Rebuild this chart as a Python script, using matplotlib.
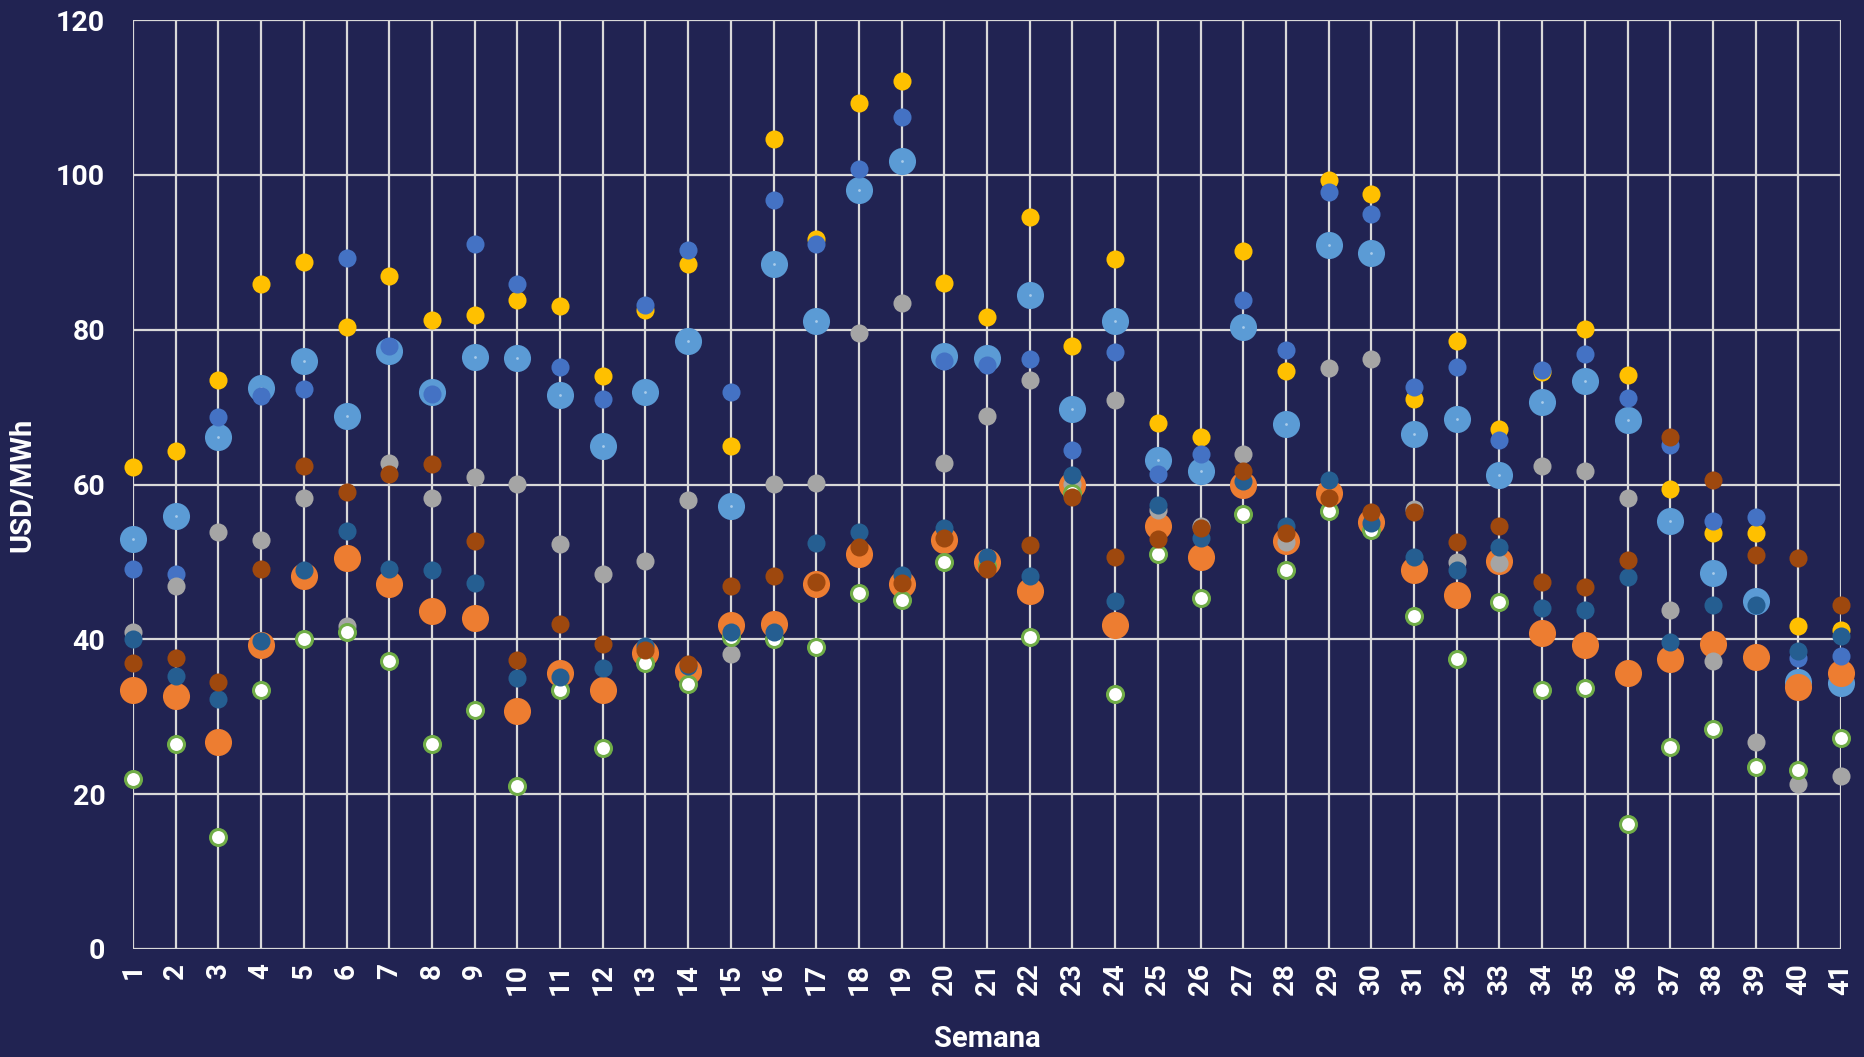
import matplotlib
matplotlib.use("Agg")
import matplotlib.pyplot as plt
import numpy as np

weeks = list(range(1, 42))

light_blue = [53.0, 55.9, 66.1, 72.5, 75.9, 68.9, 77.3, 72.0, 76.5, 76.3,
              71.6, 65.0, 71.9, 78.6, 57.2, 88.5, 81.1, 98.0, 101.8, 76.6,
              76.4, 84.5, 69.7, 81.1, 63.2, 61.8, 80.4, 67.8, 91.0, 89.9,
              66.5, 68.5, 61.2, 70.6, 73.4, 68.3, 55.3, 48.6, 45.0, 34.5, 34.3]
orange = [33.5, 32.7, 26.8, 39.3, 48.2, 50.5, 47.2, 43.7, 42.8, 30.7,
          35.7, 33.4, 38.3, 35.9, 41.8, 42.0, 47.2, 51.0, 47.1, 52.8,
          50.0, 46.2, 59.9, 41.9, 54.6, 50.7, 60.0, 52.7, 58.9, 55.1,
          49.0, 45.7, 50.1, 40.8, 39.3, 35.7, 37.4, 39.4, 37.7, 33.9, 35.7]
yellow = [62.3, 64.3, 73.5, 85.9, 88.7, 80.3, 86.9, 81.3, 81.9, 83.9,
          83.1, 74.0, 82.5, 88.5, 65.0, 104.7, 91.7, 109.3, 112.1, 86.0,
          81.6, 94.6, 77.9, 89.1, 67.9, 66.1, 90.2, 74.7, 99.4, 97.5,
          71.0, 78.6, 67.2, 74.5, 80.1, 74.2, 59.4, 53.8, 53.7, 41.7, 41.2]
blue = [49.1, 48.4, 68.7, 71.4, 72.4, 89.2, 77.9, 71.7, 91.1, 85.9,
        75.2, 71.0, 83.2, 90.3, 72.0, 96.7, 91.1, 100.8, 107.5, 76.0,
        75.4, 76.2, 64.4, 77.1, 61.4, 64.0, 83.9, 77.4, 97.8, 94.9,
        72.6, 75.2, 65.8, 74.8, 76.8, 71.2, 65.1, 55.3, 55.8, 37.6, 37.8]
gray = [41.0, 46.9, 53.9, 52.8, 58.2, 41.7, 62.8, 58.2, 61.0, 60.1,
        52.3, 48.5, 50.1, 58.0, 38.1, 60.1, 60.2, 79.6, 83.5, 62.8,
        68.8, 73.5, 60.1, 70.9, 56.7, 54.6, 63.9, 52.6, 75.1, 76.2,
        56.9, 50.0, 49.9, 62.4, 61.7, 58.2, 43.8, 37.2, 26.7, 21.3, 22.3]
white_green = [21.9, 26.5, 14.5, 33.5, 40.0, 41.0, 37.2, 26.5, 30.9, 21.0,
               33.4, 25.9, 36.95, 34.2, 40.3, 40.1, 39.0, 46.0, 45.1, 50.0,
               49.5, 40.3, 58.9, 32.9, 51.0, 45.3, 56.2, 49.0, 56.6, 54.1,
               43.0, 37.4, 44.8, 33.4, 33.7, 16.2, 26.1, 28.4, 23.5, 23.1, 27.3]
teal = [40.0, 35.2, 32.3, 39.8, 48.9, 54.0, 49.1, 48.9, 47.3, 35.0,
        35.1, 36.3, 39.2, 36.5, 41.0, 41.0, 52.4, 53.9, 48.3, 54.4,
        50.7, 48.2, 61.2, 45.0, 57.3, 53.1, 60.5, 54.6, 60.6, 55.0,
        50.6, 48.9, 51.9, 44.1, 43.8, 48.0, 39.7, 44.5, 44.5, 38.5, 40.4]
brown = [36.9, 37.6, 34.5, 49.1, 62.4, 59.0, 61.3, 62.6, 52.7, 37.3,
         42.0, 39.4, 38.6, 36.8, 46.9, 48.2, 47.4, 51.9, 47.3, 53.1,
         49.1, 52.2, 58.4, 50.6, 52.9, 54.4, 61.8, 53.8, 58.3, 56.5,
         56.4, 52.6, 54.7, 47.4, 46.7, 50.3, 66.2, 60.6, 50.9, 50.5, 44.4]

y_ticks = [0, 20, 40, 60, 80, 100, 120]

BG = "#212352"
GRID = "#d9d9d9"

plt.rcParams['font.family'] = ['Roboto', 'DejaVu Sans']

fig = plt.figure(figsize=(18.64, 10.57), dpi=100, facecolor=BG)
ax = fig.add_axes([0.0714, 0.1022, 0.9163, 0.8788])
ax.set_facecolor(BG)

big = 19.5 ** 2
small = 13 ** 2

ax.scatter(weeks, light_blue, s=big, color="#5b9bd5", zorder=3, clip_on=False, linewidths=0)
ax.scatter(weeks, light_blue, s=4, color="#a9cbea", zorder=3.1, clip_on=False, linewidths=0)
ax.scatter(weeks, orange, s=big, color="#ed7d31", zorder=4, clip_on=False, linewidths=0)
ax.scatter(weeks, yellow, s=small, color="#ffc000", zorder=5, clip_on=False, linewidths=0)
ax.scatter(weeks, blue, s=small, color="#4472c4", zorder=6, clip_on=False, linewidths=0)
ax.scatter(weeks, gray, s=small, color="#a5a5a5", zorder=7, clip_on=False, linewidths=0)
ax.scatter(weeks, white_green, s=11.5 ** 2, color="white", edgecolors="#70ad47",
           linewidths=2.2, zorder=8, clip_on=False)
ax.scatter(weeks, teal, s=small, color="#255e91", zorder=9, clip_on=False, linewidths=0)
ax.scatter(weeks, brown, s=small, color="#9e480e", zorder=10, clip_on=False, linewidths=0)

ax.set_xlim(1, 41)
ax.set_ylim(0, 120)
ax.set_xticks(weeks)
ax.set_xticklabels([str(w) for w in weeks], rotation=90, fontsize=20,
                   fontweight="bold", color="white")
ax.set_yticks(y_ticks)
ax.set_yticklabels([str(v) for v in y_ticks], fontsize=20.5, fontweight="bold", color="white")
ax.tick_params(axis="x", length=0, pad=10)
ax.tick_params(axis="y", length=0, pad=20)

for w in weeks:
    ax.axvline(w, color=GRID, lw=1.6, zorder=1)
for v in y_ticks:
    ax.axhline(v, color=GRID, lw=1.6, zorder=1)
for sp in ax.spines.values():
    sp.set_visible(False)

ax.set_xlabel("Semana", fontsize=21, fontweight="bold", color="white", labelpad=22)
ax.set_ylabel("USD/MWh", fontsize=21, fontweight="bold", color="white", labelpad=14)

fig.savefig("out.png", dpi=100, facecolor=BG)
